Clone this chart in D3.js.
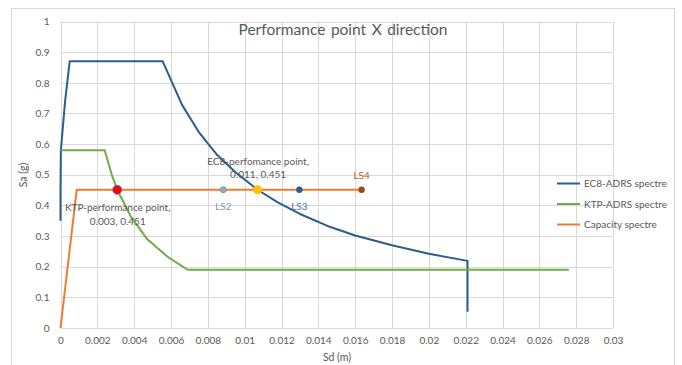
<!DOCTYPE html>
<html>
<head>
<meta charset="utf-8">
<script src="https://cdn.jsdelivr.net/npm/d3@7"></script>
<style>
  html, body { margin: 0; padding: 0; background: #ffffff; }
  svg { display: block; font-family: Lato, "Open Sans", sans-serif; }
</style>
</head>
<body>
<svg id="chart" width="682" height="365"></svg>
<script>
// Spectral displacement (m) / spectral acceleration (g) pairs for each curve
const ec8Sd = [0, 0, 0.00002, 0.00025, 0.0005, 0.00555, 0.0066, 0.0075, 0.0085, 0.0095, 0.0107, 0.0118, 0.013, 0.0145, 0.016, 0.018, 0.02, 0.0221, 0.0221];
const ec8Sa = [0.35, 0.45, 0.58, 0.74, 0.87, 0.87, 0.728, 0.64, 0.565, 0.508, 0.451, 0.41, 0.372, 0.333, 0.302, 0.27, 0.242, 0.219, 0.053];

const ktpSd = [0, 0.0024, 0.0028, 0.00308, 0.0038, 0.0047, 0.0058, 0.0069, 0.0276];
const ktpSa = [0.58, 0.58, 0.497, 0.451, 0.366, 0.29, 0.233, 0.19, 0.19];

const capSd = [0, 0.00088, 0.01635];
const capSa = [0, 0.451, 0.451];

// Marked points on the capacity spectrum
const pointNames = ["KTP", "EC8", "LS2", "LS3", "LS4"];
const pointSd = [0.00308, 0.0107, 0.00884, 0.01297, 0.01635];
const pointSa = [0.451, 0.451, 0.451, 0.451, 0.451];

const seriesNames = ["EC8-ADRS spectre", "KTP-ADRS spectre", "Capacity spectre"];
const xTicks = d3.range(0, 0.0301, 0.002);
const yTicks = d3.range(0, 1.01, 0.1);

const svg = d3.select("#chart");
const plot = { left: 60.5, right: 613, top: 21.5, bottom: 328 };

const x = d3.scaleLinear().domain([0, 0.03]).range([plot.left, plot.right]);
const y = d3.scaleLinear().domain([0, 1]).range([plot.bottom, plot.top]);

// Outer chart frame
svg.append("rect")
  .attr("x", 11.5).attr("y", 8.5).attr("width", 663).attr("height", 360)
  .attr("fill", "#ffffff").attr("stroke", "#d9d9d9").attr("stroke-width", 1);

// Gridlines
const grid = svg.append("g").attr("stroke", "#d9d9d9").attr("stroke-width", 1);
grid.selectAll("line.h").data(yTicks).join("line")
  .attr("x1", plot.left).attr("x2", plot.right)
  .attr("y1", d => Math.round(y(d)) + 0.5).attr("y2", d => Math.round(y(d)) + 0.5);
grid.selectAll("line.v").data(xTicks).join("line")
  .attr("x1", d => Math.round(x(d)) + 0.5).attr("x2", d => Math.round(x(d)) + 0.5)
  .attr("y1", plot.top).attr("y2", plot.bottom);

// Axes (labels only, Excel-style)
const xAxis = d3.axisBottom(x).tickValues(xTicks).tickSize(0).tickPadding(9)
  .tickFormat(d => +d.toFixed(3) + "");
const yAxis = d3.axisLeft(y).tickValues(yTicks).tickSize(0).tickPadding(11)
  .tickFormat(d => +d.toFixed(1) + "");
const gx = svg.append("g").attr("transform", `translate(0,${plot.bottom})`).call(xAxis);
const gy = svg.append("g").attr("transform", `translate(${plot.left},0)`).call(yAxis);
[gx, gy].forEach(g => {
  g.select(".domain").remove();
  g.selectAll("text").attr("fill", "#595959").attr("font-size", 10).attr("font-family", "Lato, sans-serif");
});

// Axis titles
svg.append("text").attr("x", 337).attr("y", 361).attr("text-anchor", "middle")
  .attr("fill", "#595959").attr("font-size", 10.5).text("Sd (m)");
svg.append("text").attr("transform", "translate(27,175) rotate(-90)").attr("text-anchor", "middle")
  .attr("fill", "#595959").attr("font-size", 10.5).text("Sa (g)");

// Title
svg.append("text").attr("x", 343).attr("y", 35).attr("text-anchor", "middle")
  .attr("fill", "#595959").attr("font-size", 15.5).attr("word-spacing", 1.5)
  .text("Performance point X direction");

// Curves
const line = d3.line().x(d => x(d[0])).y(d => y(d[1]));
const curves = [
  { pts: d3.zip(ec8Sd, ec8Sa), color: "#2b5d8e" },
  { pts: d3.zip(ktpSd, ktpSa), color: "#70ad47" },
  { pts: d3.zip(capSd, capSa), color: "#ed7d31" }
];
svg.append("g").selectAll("path").data(curves).join("path")
  .attr("d", d => line(d.pts))
  .attr("fill", "none").attr("stroke", d => d.color).attr("stroke-width", 2)
  .attr("stroke-linejoin", "round");

// Points
const pointStyle = {
  KTP: { r: 4.5, fill: "#ff0000", stroke: "#4472c4", sw: 0.8 },
  EC8: { r: 4.5, fill: "#ffc000", stroke: "#ffc000", sw: 0 },
  LS2: { r: 3, fill: "#8faadc", stroke: "#70ad47", sw: 1 },
  LS3: { r: 3.2, fill: "#255e91", stroke: "#255e91", sw: 0 },
  LS4: { r: 3.2, fill: "#9e480e", stroke: "#9e480e", sw: 0 }
};
const pts = pointNames.map((n, i) => ({ n, sd: pointSd[i], sa: pointSa[i] }));
svg.append("g").selectAll("circle").data(pts).join("circle")
  .attr("cx", d => x(d.sd)).attr("cy", d => y(d.sa))
  .attr("r", d => pointStyle[d.n].r)
  .attr("fill", d => pointStyle[d.n].fill)
  .attr("stroke", d => pointStyle[d.n].stroke)
  .attr("stroke-width", d => pointStyle[d.n].sw);

// Point labels
const fmt = d3.format(".3f");
const lbl = svg.append("g").attr("font-size", 10).attr("text-anchor", "middle");
const ktp = pts[0], ec8 = pts[1];
lbl.append("text").attr("x", x(ktp.sd) + 0.5).attr("y", y(ktp.sa) + 21).attr("fill", "#595959")
  .text("KTP-performance point,");
lbl.append("text").attr("x", x(ktp.sd) + 0.5).attr("y", y(ktp.sa) + 35).attr("fill", "#595959")
  .text(`${fmt(ktp.sd).replace(/0+$/, "")}, ${fmt(ktp.sa)}`);
lbl.append("text").attr("x", x(ec8.sd) + 0.5).attr("y", y(ec8.sa) - 25).attr("fill", "#595959")
  .text("EC8-perfomance point,");
lbl.append("text").attr("x", x(ec8.sd) + 0.5).attr("y", y(ec8.sa) - 12).attr("fill", "#595959")
  .text("0.011, " + fmt(ec8.sa));
lbl.append("text").attr("x", x(pts[2].sd)).attr("y", y(pts[2].sa) + 20).attr("fill", "#8497b0").text("LS2");
lbl.append("text").attr("x", x(pts[3].sd)).attr("y", y(pts[3].sa) + 20).attr("fill", "#4472c4").text("LS3");
lbl.append("text").attr("x", x(pts[4].sd)).attr("y", y(pts[4].sa) - 11).attr("fill", "#c55a11").text("LS4");

// Legend
const legend = svg.append("g");
seriesNames.forEach((name, i) => {
  const ly = 183.5 + i * 20.5;
  legend.append("line").attr("x1", 557).attr("x2", 580).attr("y1", ly).attr("y2", ly)
    .attr("stroke", curves[i].color).attr("stroke-width", 2);
  legend.append("text").attr("x", 584).attr("y", ly + 3.5).attr("fill", "#595959")
    .attr("font-size", 10).text(name);
});
</script>
</body>
</html>
